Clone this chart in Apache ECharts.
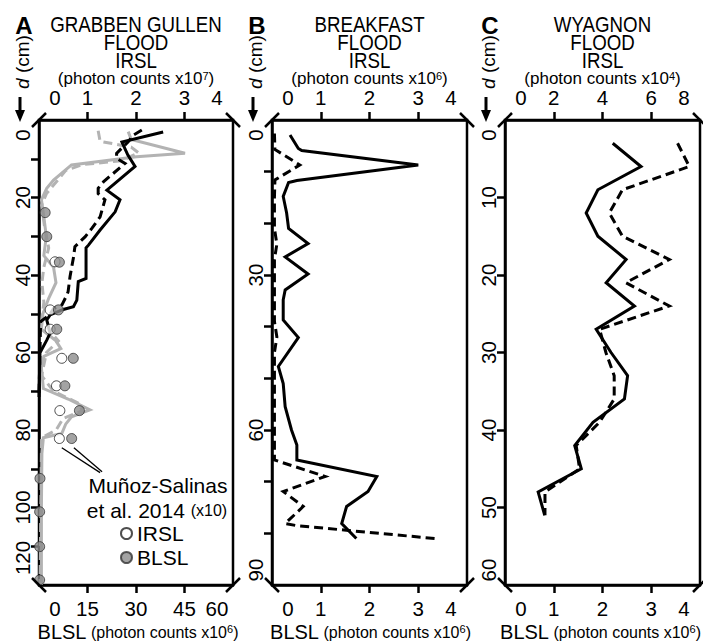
<!DOCTYPE html>
<html>
<head>
<meta charset="utf-8">
<script src="https://cdn.jsdelivr.net/npm/echarts@6/dist/echarts.min.js"></script>
<style>
html, body { margin: 0; padding: 0; background: #fff; }
#chart { width: 703px; height: 642px; }
</style>
</head>
<body>
<div id="chart"></div>
<script>
'use strict';

// A - Grabben Gullen (IRSL x10^7 top, BLSL x10^6 bottom), depth in cm
const aSolidDepth = [3.1, 5.7, 9.0, 12.0, 18.1, 20.6, 23.7, 28.4, 32.3, 33.0, 40.9, 41.7, 46.5, 48.2, 48.9, 50.3, 51.6, 55.0, 56.8, 60.1, 71.5];
const aSolidIrsl = [2.56, 1.71, 1.83, 1.98, 1.40, 1.67, 1.57, 1.26, 1.02, 0.97, 0.97, 0.81, 0.78, 0.71, 0.50, 0.23, 0.16, 0.23, 0.16, 0.02, 0.0];
const aDashDepth = [2.6, 3.9, 5.6, 8.6, 9.9, 11.2, 15.9, 17.6, 19.0, 20.6, 25.0, 27.9, 30.1, 32.7, 35.3, 40.4, 44.3, 45.2, 47.7, 48.6, 50.3, 52.0, 71.5];
const aDashBlsl = [31.8, 29.2, 27.6, 24.0, 24.0, 26.6, 20.0, 18.3, 18.3, 20.4, 18.9, 16.4, 14.3, 11.1, 10.7, 9.6, 9.0, 8.6, 7.1, 4.5, 3.3, 0.5, 0.0];
const aGreySolidDepth = [3.0, 5.0, 8.6, 9.5, 11.6, 15.5, 17.6, 20.6, 25, 30, 35, 38, 42, 46, 50, 54, 57, 59, 61, 64, 69.3, 72, 74.8, 76.6, 78.5, 80.9, 82, 86, 100, 120];
const aGreySolidIrsl = [1.84, 1.90, 3.01, 2.01, 0.67, 0.30, 0.16, 0.05, 0.10, 0.15, 0.10, 0.30, 0.35, 0.20, 0.08, 0.05, 0.35, 0.45, 0.10, 0.05, 0.09, 0.60, 1.05, 0.67, 0.55, 0.47, 0.09, 0.06, 0.05, 0.05];
const aGreyDashDepth = [2.8, 5.5, 7, 8.5, 10.5, 11.5, 13, 16, 19, 22, 28, 33, 38, 42, 47, 52, 57, 60, 66, 70, 73, 75, 77, 80, 82, 120];
const aGreyDashBlsl = [18.3, 18.9, 28.5, 30.8, 25.5, 13.5, 8.3, 5.3, 2.3, 0.8, 1.8, 3.0, 1.5, 0.9, 1.5, 0.8, 6.0, 2.3, 0.8, 4.5, 12.0, 13.5, 7.5, 5.3, 0.8, 0.3];
// Munoz-Salinas et al. 2014 (x10)
const mzIrslDepth = [36.6, 49.0, 54.0, 61.5, 68.6, 75.0, 82.2];
const mzIrsl = [0.33, 0.23, 0.23, 0.47, 0.36, 0.43, 0.42];
const mzBlslDepth = [23.9, 30.1, 36.7, 49.0, 54.0, 61.5, 68.6, 75.0, 82.2, 92.5, 101.1, 110.1, 118.7];
const mzBlsl = [1.9, 2.4, 6.3, 6.0, 5.5, 10.6, 8.0, 12.5, 10.1, 0.3, 0.2, 0.2, 0.2];
// callout arrows: [from irsl, from depth, to irsl, to depth]
const calloutArrows = [[1.26, 91.0, 0.47, 84.6], [1.30, 90.8, 0.72, 84.6]];

// B - Breakfast (IRSL x10^6, BLSL x10^6)
const bSolidDepth = [2.9, 5.5, 5.9, 8.7, 11.7, 12.1, 14.8, 18, 21, 23.9, 26.5, 29.8, 32.9, 34.8, 38.7, 42.1, 47.7, 51, 55.5, 60, 62.9, 65.8, 69, 71.9, 74.8, 78.1, 81];
const bSolidIrsl = [0.37, 0.54, 0.61, 3.0, 0.51, 0.34, 0.23, 0.30, 0.34, 0.74, 0.27, 0.74, 0.27, 0.23, 0.23, 0.54, 0.13, 0.23, 0.27, 0.40, 0.51, 0.51, 2.15, 1.97, 1.53, 1.43, 1.73];
const bDashDepth = [2.6, 5.7, 8.7, 11.6, 15, 21, 24, 27, 39, 42, 45, 65.8, 69, 71.9, 74.8, 78.1, 78.5, 81];
const bDashBlsl = [0.05, 0.06, 0.57, 0.06, 0.05, 0.05, 0.10, 0.05, 0.05, 0.10, 0.05, 0.05, 1.09, 0.23, 0.64, 0.27, 0.50, 3.34];

// C - Wyagnon (IRSL x10^4, BLSL x10^6)
const cDepth = [3, 6, 9, 12, 15, 18, 21, 24, 27, 30, 33, 36, 39, 42, 45, 48, 51];
const cSolidIrsl = [4.42, 5.58, 3.81, 3.33, 3.81, 4.97, 4.15, 5.31, 3.74, 4.35, 5.03, 4.90, 3.61, 2.86, 3.13, 1.36, 1.63];
const cDashBlsl = [3.54, 3.78, 2.41, 2.14, 2.41, 3.37, 2.48, 3.37, 1.94, 2.07, 2.24, 2.24, 1.94, 1.46, 1.53, 0.82, 0.82];

const titles = ['GRABBEN GULLEN\nFLOOD\nIRSL', 'BREAKFAST\nFLOOD\nIRSL', 'WYAGNON\nFLOOD\nIRSL'];
const panelLetters = ['A', 'B', 'C'];
const topExponents = ['7', '6', '4'];
const bottomExponents = ['6', '6', '6'];

const FONT = '"Liberation Sans", Arial, sans-serif';
const GREY = '#b3b3b3';

const panels = [
  { left: 39, width: 194, depthMax: 120, depthLabelStep: 20, topMax: 4, topStep: 1, botMax: 60, botStep: 15, depthEndPad: 54, capShift: 2 },
  { left: 272, width: 195, depthMax: 90, depthLabelStep: 30, topMax: 4, topStep: 1, botMax: 4, botStep: 1, depthEndPad: 30, capShift: 1 },
  { left: 505, width: 195, depthMax: 60, depthLabelStep: 10, topMax: 8, topStep: 2, botMax: 4, botStep: 1, depthEndPad: 30, capShift: -2 }
];
const TOP = 120, HEIGHT = 465;

function zip(xs, ys) { return xs.map((x, i) => [x, ys[i]]); }
function steps(from, to, step) { const out = []; for (let v = from; v <= to + 1e-9; v += step) out.push(+v.toFixed(6)); return out; }

const lbl = { fontSize: 20.5, fontFamily: FONT, color: '#000', lineHeight: 16 };

function xAxis(gi, pos, max, step) {
  return {
    type: 'value', gridIndex: gi, position: pos, min: 0, max: max, interval: step,
    axisLine: { show: true, onZero: false, lineStyle: { color: '#000', width: 2.5 } },
    axisTick: { show: true, inside: false, length: 8, lineStyle: { color: '#000', width: 2.5 }, customValues: steps(step, max - step, step) },
    splitLine: { show: false },
    axisLabel: Object.assign({}, lbl, {
      margin: 15, showMinLabel: true, showMaxLabel: true,
      formatter: v => v === 0 ? '{lo|' + v + '}' : (v === max ? '{hi|' + v + '}' : String(v)),
      rich: { lo: Object.assign({ padding: [0, 0, 0, 32] }, lbl), hi: Object.assign({ padding: [0, 32, 0, 0] }, lbl) }
    })
  };
}

function yAxis(gi, p) {
  return {
    type: 'value', gridIndex: gi, position: 'left', inverse: true, min: 0, max: p.depthMax, interval: 10,
    axisLine: { show: true, onZero: false, lineStyle: { color: '#000', width: 2.5 } },
    axisTick: { show: true, inside: false, length: 8, lineStyle: { color: '#000', width: 2.5 }, customValues: steps(10, p.depthMax - 10, 10) },
    splitLine: { show: false },
    axisLabel: Object.assign({}, lbl, {
      rotate: 90, margin: 9, showMinLabel: true, showMaxLabel: true,
      formatter: v => {
        if (v % p.depthLabelStep !== 0) return '';
        if (v === 0) return '{lo|0}';
        if (v === p.depthMax) return '{hi|' + v + '}';
        return String(v);
      },
      rich: { lo: Object.assign({ padding: [0, 30, 0, 0] }, lbl), hi: Object.assign({ padding: [0, 0, 0, p.depthEndPad] }, lbl) }
    })
  };
}

const grids = [], xAxes = [], yAxes = [];
panels.forEach((p, i) => {
  grids.push({ left: p.left, top: TOP, width: p.width, height: HEIGHT, show: true, borderColor: '#000', borderWidth: 2.5,
    containLabel: false, outerBoundsMode: 'none' });
  xAxes.push(xAxis(i, 'top', p.topMax, p.topStep));
  xAxes.push(xAxis(i, 'bottom', p.botMax, p.botStep));
  yAxes.push(yAxis(i, p));
});

function line(name, gi, top, data, color, dashed, z) {
  return {
    name: name, type: 'line', xAxisIndex: gi * 2 + (top ? 0 : 1), yAxisIndex: gi, data: data,
    showSymbol: false, symbol: 'none', z: z,
    lineStyle: { color: color, width: 3, type: dashed ? [9, 5] : 'solid', join: 'miter' }
  };
}

const series = [
  line('A grey IRSL', 0, true, zip(aGreySolidIrsl, aGreySolidDepth), GREY, false, 2),
  line('A grey BLSL', 0, false, zip(aGreyDashBlsl, aGreyDashDepth), GREY, true, 2),
  line('A IRSL', 0, true, zip(aSolidIrsl, aSolidDepth), '#000', false, 3),
  line('A BLSL', 0, false, zip(aDashBlsl, aDashDepth), '#000', true, 3),
  line('B IRSL', 1, true, zip(bSolidIrsl, bSolidDepth), '#000', false, 3),
  line('B BLSL', 1, false, zip(bDashBlsl, bDashDepth), '#000', true, 3),
  line('C IRSL', 2, true, zip(cSolidIrsl, cDepth), '#000', false, 3),
  line('C BLSL', 2, false, zip(cDashBlsl, cDepth), '#000', true, 3),
  {
    name: 'IRSL', type: 'scatter', xAxisIndex: 0, yAxisIndex: 0, data: zip(mzIrsl, mzIrslDepth),
    symbol: 'circle', symbolSize: 10, z: 5,
    itemStyle: { color: '#fff', borderColor: '#222', borderWidth: 1 },
    markLine: {
      silent: true, symbol: ['none', 'arrow'], symbolSize: [0, 10],
      lineStyle: { color: '#000', width: 1.3, type: 'solid' }, label: { show: false },
      data: calloutArrows.map(a => [{ coord: [a[0], a[1]] }, { coord: [a[2], a[3]] }])
    }
  },
  {
    name: 'BLSL', type: 'scatter', xAxisIndex: 1, yAxisIndex: 0, data: zip(mzBlsl, mzBlslDepth),
    symbol: 'circle', symbolSize: 10, z: 5,
    itemStyle: { color: '#8c8c8c', borderColor: '#333', borderWidth: 1 }
  }
];

const graphics = [];
const sup = { fontSize: 11, fontFamily: FONT, fill: '#000', verticalAlign: 'top', lineHeight: 16 };
panels.forEach((p, i) => {
  const L = p.left, R = p.left + p.width, T = TOP, B = TOP + HEIGHT, cx = (L + R) / 2, d = 7;
  // corner slashes
  [[L - d, T + d, L + d, T - d], [R - d, T - d, R + d, T + d], [L - d, B - d, L + d, B + d], [R - d, B + d, R + d, B - d]].forEach(s => {
    graphics.push({ type: 'line', shape: { x1: s[0], y1: s[1], x2: s[2], y2: s[3] }, style: { stroke: '#000', lineWidth: 2.5 }, z: 10 });
  });
  graphics.push({ type: 'text', x: cx, y: 42, scaleX: 0.85, style: { text: titles[i], font: '22px ' + FONT, fill: '#000', align: 'center', verticalAlign: 'middle', lineHeight: 18 } });
  graphics.push({ type: 'text', x: L - 15, y: 25, style: { text: panelLetters[i], font: 'bold 24px ' + FONT, fill: '#000', align: 'center', verticalAlign: 'middle' } });
  graphics.push({ type: 'text', x: cx, y: 78, style: {
    text: '(photon counts x10{s|' + topExponents[i] + '})', fontSize: 17, fontFamily: FONT, fill: '#000',
    align: 'center', verticalAlign: 'middle', lineHeight: 16, rich: { s: sup } } });
  graphics.push({ type: 'text', x: cx + p.capShift, y: 632, style: {
    text: '{b|BLSL} (photon counts x10{s|' + bottomExponents[i] + '})', fontSize: 16, fontFamily: FONT, fill: '#000',
    align: 'center', verticalAlign: 'middle', lineHeight: 18,
    rich: { b: { fontSize: 20, fontFamily: FONT, fill: '#000', lineHeight: 18 }, s: sup } } });
  // depth label with arrow
  const ax = L - 19;
  graphics.push({ type: 'text', x: ax + 2, y: 62, rotation: Math.PI / 2, style: {
    text: '{i|d} (cm)', fontSize: 19, fontFamily: FONT, fill: '#000', align: 'center', verticalAlign: 'middle',
    rich: { i: { fontSize: 19, fontFamily: FONT, fontStyle: 'italic', fill: '#000' } } } });
  graphics.push({ type: 'line', shape: { x1: ax, y1: 97, x2: ax, y2: 112 }, style: { stroke: '#000', lineWidth: 3 } });
  graphics.push({ type: 'polygon', shape: { points: [[ax - 5, 110], [ax + 5, 110], [ax, 122]] }, style: { fill: '#000' } });
});
graphics.push({ type: 'text', x: 158, y: 485, style: { text: 'Muñoz-Salinas', font: '21px ' + FONT, fill: '#000', align: 'center', verticalAlign: 'middle' } });
graphics.push({ type: 'text', x: 157, y: 510, style: {
  text: 'et al. 2014 {s|(x10)}', fontSize: 21, fontFamily: FONT, fill: '#000', align: 'center', verticalAlign: 'middle',
  rich: { s: { fontSize: 16, fontFamily: FONT, fill: '#000' } } } });

const chart = echarts.init(document.getElementById('chart'), null, { renderer: 'svg' });
chart.setOption({
  animation: false,
  backgroundColor: '#fff',
  textStyle: { fontFamily: FONT },
  grid: grids,
  xAxis: xAxes,
  yAxis: yAxes,
  legend: {
    data: [{ name: 'IRSL', icon: 'circle' }, { name: 'BLSL', icon: 'circle' }],
    orient: 'vertical', left: 120, top: 523, itemWidth: 11, itemHeight: 11, itemGap: 3, padding: 0,
    selectedMode: false, textStyle: { fontSize: 21, fontFamily: FONT, color: '#000' }
  },
  series: series,
  graphic: graphics
});
</script>
</body>
</html>
